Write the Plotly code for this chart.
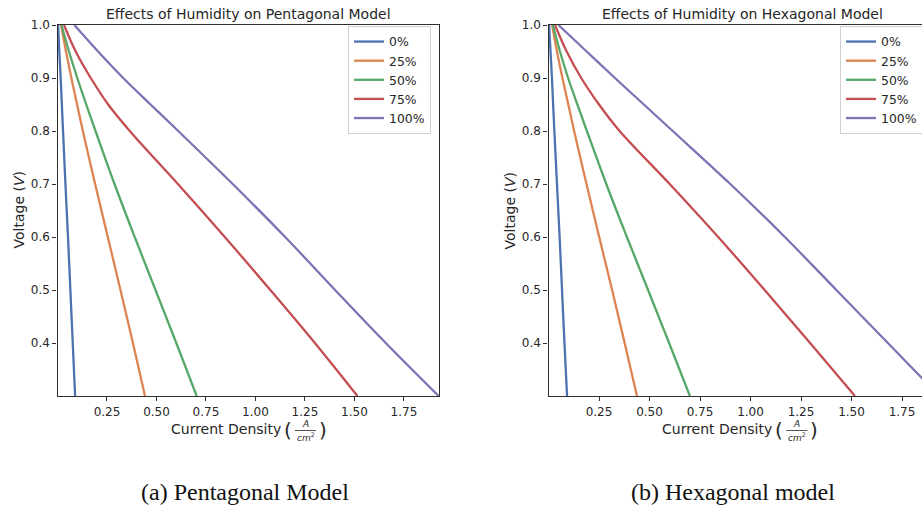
import plotly.graph_objects as go

W, H = 922, 510

# ---------------- data ----------------
voltage = [1.0, 0.95, 0.9, 0.85, 0.8, 0.7, 0.6, 0.5, 0.4, 0.3]
humidity_labels = ["0%", "25%", "50%", "75%", "100%"]

pent_0 = [0.003, 0.009, 0.016, 0.022, 0.028, 0.040, 0.053, 0.065, 0.077, 0.089]
pent_25 = [0.018, 0.043, 0.070, 0.099, 0.128, 0.190, 0.254, 0.318, 0.381, 0.442]
pent_50 = [0.020, 0.058, 0.100, 0.145, 0.192, 0.288, 0.390, 0.495, 0.600, 0.703]
pent_75 = [0.033, 0.092, 0.168, 0.256, 0.365, 0.608, 0.845, 1.075, 1.300, 1.515]
pent_100 = [0.085, 0.205, 0.332, 0.470, 0.610, 0.885, 1.150, 1.402, 1.658, 1.925]

hex_0 = [0.003, 0.010, 0.017, 0.023, 0.029, 0.042, 0.055, 0.067, 0.079, 0.092]
hex_25 = [0.018, 0.042, 0.069, 0.098, 0.127, 0.188, 0.251, 0.315, 0.377, 0.438]
hex_50 = [0.021, 0.057, 0.097, 0.143, 0.190, 0.286, 0.388, 0.493, 0.597, 0.700]
hex_75 = [0.032, 0.090, 0.162, 0.250, 0.352, 0.600, 0.840, 1.070, 1.295, 1.517]
hex_100 = [0.049, 0.189, 0.329, 0.472, 0.615, 0.900, 1.170, 1.425, 1.680, 1.935]

pent_series = [pent_0, pent_25, pent_50, pent_75, pent_100]
hex_series = [hex_0, hex_25, hex_50, hex_75, hex_100]

colors = ["#4C72B0", "#DD8452", "#55A868", "#C44E52", "#8172B3"]

y_ticks = [0.4, 0.5, 0.6, 0.7, 0.8, 0.9, 1.0]
x_ticks = [0.25, 0.50, 0.75, 1.00, 1.25, 1.50, 1.75]
x_tick_text = ["0.25", "0.50", "0.75", "1.00", "1.25", "1.50", "1.75"]

titles = ["Effects of Humidity on Pentagonal Model", "Effects of Humidity on Hexagonal Model"]
captions = ["(a) Pentagonal Model", "(b) Hexagonal model"]

# ---------------- figure ----------------
def px(x):
    return x / W


def py(y):
    return 1 - y / H


fig = go.Figure()

for i, (lab, col) in enumerate(zip(humidity_labels, colors)):
    fig.add_trace(go.Scatter(x=pent_series[i], y=voltage, mode="lines", name=lab,
                             line=dict(color=col, width=2.3, shape="spline", smoothing=1.0),
                             xaxis="x", yaxis="y", legend="legend"))
for i, (lab, col) in enumerate(zip(humidity_labels, colors)):
    fig.add_trace(go.Scatter(x=hex_series[i], y=voltage, mode="lines", name=lab,
                             line=dict(color=col, width=2.3, shape="spline", smoothing=1.0),
                             xaxis="x2", yaxis="y2", legend="legend2"))

spine = "#2e2e2e"
tickfont = dict(family="DejaVu Sans", size=12, color="#262626")

common_x = dict(showgrid=False, zeroline=False, showline=True, linecolor=spine, linewidth=1.3,
                ticks="outside", ticklen=4, tickwidth=1.2, tickcolor=spine,
                tickvals=x_ticks, ticktext=x_tick_text, tickfont=tickfont, mirror=True)
common_y = dict(showgrid=False, zeroline=False, showline=True, linecolor=spine, linewidth=1.3,
                ticks="outside", ticklen=4, tickwidth=1.2, tickcolor=spine,
                tickvals=y_ticks, tickformat=".1f", tickfont=tickfont, range=[0.3, 1.0],
                domain=[py(396), py(25)])

legfont = dict(family="DejaVu Sans", size=12.4, color="#262626")

fig.update_layout(
    width=W, height=H,
    margin=dict(l=0, r=0, t=0, b=0, autoexpand=False),
    paper_bgcolor="white", plot_bgcolor="white",
    xaxis=dict(**common_x, domain=[px(57.5), px(439)], range=[0, 1.927], anchor="y"),
    yaxis=dict(**common_y, anchor="x", mirror=True),
    xaxis2=dict(**common_x, domain=[px(548.5), 1.0], range=[0, 1.849], anchor="y2"),
    yaxis2=dict(**common_y, anchor="x2", mirror=False),
    legend=dict(x=px(348), y=py(26), xanchor="left", yanchor="top",
                bgcolor="white", bordercolor="#d0d0d0", borderwidth=1,
                font=legfont, itemwidth=30, tracegroupgap=0),
    legend2=dict(x=px(840), y=py(26), xanchor="left", yanchor="top",
                 bgcolor="white", bordercolor="#d0d0d0", borderwidth=1,
                 font=legfont, itemwidth=30, tracegroupgap=0),
    showlegend=True,
)

ann = []
txtcol = "#262626"
# titles
for t, cx in zip(titles, [248, 742]):
    ann.append(dict(text=t, x=px(cx), y=py(14), xref="paper", yref="paper",
                    xanchor="center", yanchor="middle", showarrow=False,
                    font=dict(family="DejaVu Sans", size=14, color=txtcol)))
# y titles
for cx in [18, 509]:
    ann.append(dict(text="Voltage (<i>V</i>)", x=px(cx), y=py(210.5), xref="paper", yref="paper",
                    xanchor="center", yanchor="middle", showarrow=False, textangle=-90,
                    font=dict(family="DejaVu Sans", size=14, color=txtcol)))
# x titles (text + fraction)
shapes = []
for dx in [0, 491.3]:
    ann.append(dict(text="Current Density", x=px(283 + dx), y=py(429), xref="paper", yref="paper",
                    xanchor="right", yanchor="middle", showarrow=False,
                    font=dict(family="DejaVu Sans", size=14, color=txtcol)))
    ann.append(dict(text="(", x=px(288 + dx), y=py(430), xref="paper", yref="paper",
                    xanchor="center", yanchor="middle", showarrow=False,
                    font=dict(family="DejaVu Sans", size=20, color=txtcol)))
    ann.append(dict(text=")", x=px(323 + dx), y=py(430), xref="paper", yref="paper",
                    xanchor="center", yanchor="middle", showarrow=False,
                    font=dict(family="DejaVu Sans", size=20, color=txtcol)))
    ann.append(dict(text="<i>A</i>", x=px(305 + dx), y=py(423.5), xref="paper", yref="paper",
                    xanchor="center", yanchor="middle", showarrow=False,
                    font=dict(family="DejaVu Sans", size=9, color=txtcol)))
    ann.append(dict(text="<i>cm</i><sup>2</sup>", x=px(305.5 + dx), y=py(437), xref="paper", yref="paper",
                    xanchor="center", yanchor="middle", showarrow=False,
                    font=dict(family="DejaVu Sans", size=9, color=txtcol)))
    shapes.append(dict(type="line", xref="paper", yref="paper",
                       x0=px(295 + dx), x1=px(316 + dx), y0=py(430.5), y1=py(430.5),
                       line=dict(color=txtcol, width=0.8)))
# captions
for c, cx in zip(captions, [245, 733]):
    ann.append(dict(text=c, x=px(cx), y=py(492), xref="paper", yref="paper",
                    xanchor="center", yanchor="middle", showarrow=False,
                    font=dict(family="Liberation Serif", size=24, color="#111111")))

fig.update_layout(annotations=ann, shapes=shapes)

fig.write_html("out.html", config={"displayModeBar": False},
               post_script="document.body.style.margin='0';document.body.style.overflow='hidden';")
